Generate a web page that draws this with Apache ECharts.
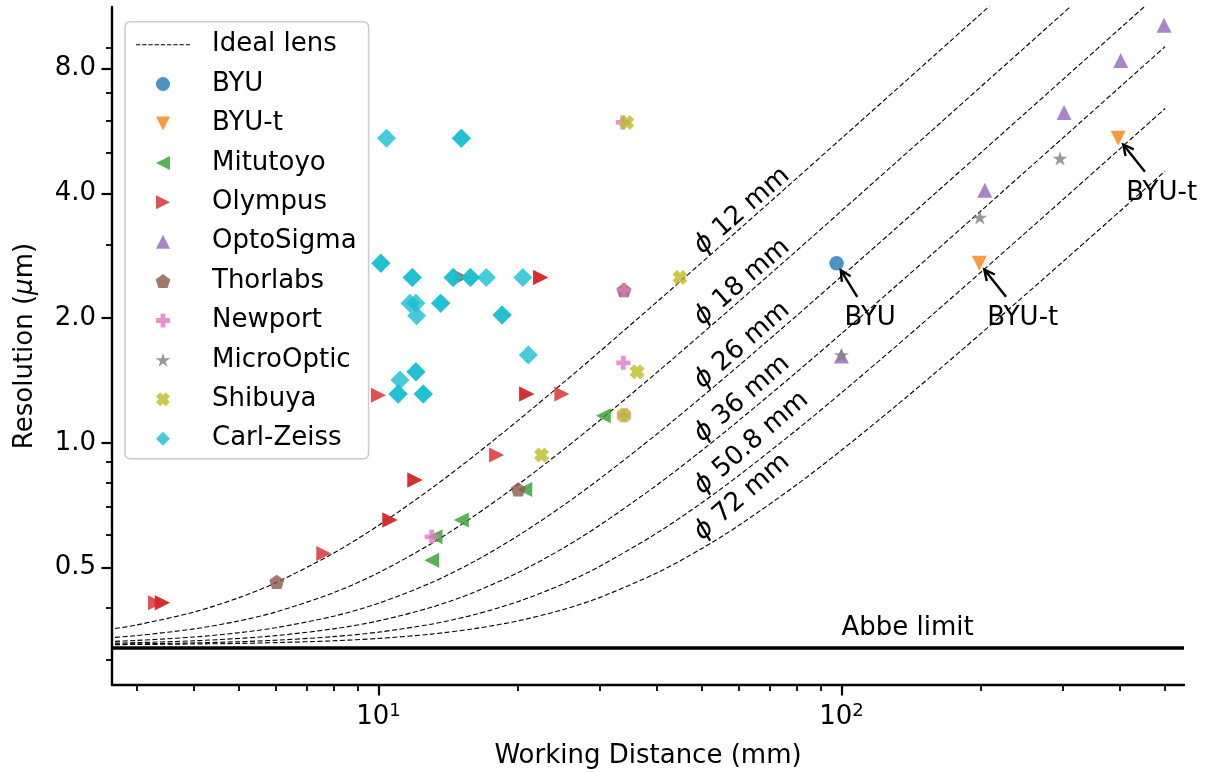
<!DOCTYPE html>
<html>
<head>
<meta charset="utf-8">
<script src="https://cdn.jsdelivr.net/npm/echarts@6/dist/echarts.min.js"></script>
<style>
  html, body { margin: 0; padding: 0; background: #fff; }
  #chart { width: 1211px; height: 772px; }
</style>
</head>
<body>
<div id="chart"></div>
<script>
// working distance samples (mm) for the ideal lens curves
var curveWD = [2.6, 3, 4, 5, 6, 8, 10, 13, 16, 20, 25, 30, 40, 50, 60, 80, 100, 130, 160, 200, 250, 300, 400, 500];
// resolution (um) of an ideal lens of given diameter, read at curveWD
var lens12  = [0.3542, 0.3634, 0.3906, 0.4231, 0.4596, 0.5417, 0.6317, 0.7755, 0.9256, 1.1310, 1.3926, 1.6572, 2.1909, 2.7278, 3.2662, 4.3455, 5.4264, 7.0491, 8.6729, 10.838, 13.546, 16.253];
var lens18  = [0.3383, 0.3426, 0.3557, 0.3718, 0.3906, 0.4348, 0.4858, 0.5710, 0.6629, 0.7920, 0.9595, 1.1310, 1.4805, 1.8346, 2.1909, 2.9071, 3.6258, 4.7056, 5.7869, 7.2296, 9.0336, 10.838, 14.448];
var lens26  = [0.3314, 0.3335, 0.3400, 0.3482, 0.3580, 0.3816, 0.4100, 0.4596, 0.5154, 0.5963, 0.7045, 0.8174, 1.0515, 1.2916, 1.5348, 2.0262, 2.5211, 3.2662, 4.0131, 5.0106, 6.2584, 7.5070, 10.005, 12.504];
var lens36  = [0.3284, 0.3295, 0.3329, 0.3373, 0.3426, 0.3557, 0.3718, 0.4009, 0.4348, 0.4858, 0.5562, 0.6317, 0.7920, 0.9595, 1.1310, 1.4805, 1.8346, 2.3696, 2.9071, 3.6258, 4.5256, 5.4264, 7.2296, 9.0336];
var lens508 = [0.3267, 0.3273, 0.3290, 0.3312, 0.3339, 0.3407, 0.3493, 0.3651, 0.3841, 0.4137, 0.4560, 0.5030, 0.6063, 0.7176, 0.8337, 1.0740, 1.3202, 1.6948, 2.0729, 2.5796, 3.2153, 3.8523, 5.1285, 6.4060];
var lens72  = [0.3258, 0.3261, 0.3270, 0.3281, 0.3295, 0.3329, 0.3373, 0.3455, 0.3557, 0.3718, 0.3957, 0.4231, 0.4858, 0.5562, 0.6317, 0.7920, 0.9595, 1.2178, 1.4805, 1.8346, 2.2802, 2.7278, 3.6258, 4.5256];
var lensNames = ['12', '18', '26', '36', '50.8', '72'];
var abbeLimit = 0.3245;
var abbeTextY = 0.34;

// [working distance mm, resolution um]
var byu        = [[97.6, 2.71]];
var byuT       = [[198.5, 2.71], [396, 5.43]];
var mitutoyo   = [[30.6, 1.163], [20.7, 0.772], [15.1, 0.651], [13.25, 0.593], [13.03, 0.521]];
var olympus    = [[3.30, 0.411], [3.415, 0.411], [3.415, 0.411], [7.62, 0.541], [10.59, 0.651], [10.59, 0.651],
                  [11.99, 0.813], [11.99, 0.813], [18.0, 0.934], [10.0, 1.303], [20.9, 1.311], [20.9, 1.311],
                  [24.9, 1.311], [22.4, 2.507], [22.4, 2.507], [15.1, 2.51]];
var optoSigma  = [[100, 1.619], [204, 4.07], [302.5, 6.27], [401, 8.36], [497.5, 10.17]];
var thorlabs   = [[6.03, 0.462], [20.04, 0.772], [33.9, 2.336]];
var newport    = [[33.7, 5.93], [33.9, 2.336], [33.8, 1.56], [33.9, 1.166], [13.03, 0.593]];
var microOptic = [[100, 1.63], [199, 3.5], [296.5, 4.856]];
var shibuya    = [[34.4, 5.93], [44.8, 2.507], [36.2, 1.484], [33.9, 1.166], [22.5, 0.934]];
var carlZeiss  = [[10.41, 5.43], [15.1, 5.43], [15.1, 5.43], [10.12, 2.71], [10.12, 2.71], [11.83, 2.507], [11.83, 2.507],
                  [14.5, 2.507], [14.5, 2.507], [15.8, 2.507], [15.8, 2.507], [17.1, 2.507], [20.5, 2.507],
                  [11.7, 2.17], [12.05, 2.17], [12.09, 2.025], [13.63, 2.17], [13.63, 2.17], [18.5, 2.033], [18.5, 2.033],
                  [21.07, 1.628], [11.13, 1.417], [12.05, 1.484], [12.05, 1.484], [11.03, 1.311], [11.03, 1.311],
                  [12.5, 1.311], [12.5, 1.311]];

var xMajor = [10, 100];
var xMinor = [3, 4, 5, 6, 7, 8, 9, 20, 30, 40, 50, 60, 70, 80, 90, 200, 300, 400, 500];
var yMajor = [0.5, 1, 2, 4, 8];
var yMinor = [0.3, 0.4, 0.6, 0.7, 0.8, 0.9, 3, 5, 6, 7, 9];

// annotated points: series name + point index
var annotations = [
    { text: 'BYU', series: 'BYU', index: 0 },
    { text: 'BYU-t', series: 'BYU-t', index: 0 },
    { text: 'BYU-t', series: 'BYU-t', index: 1 }
];

var FONT = "'DejaVu Sans', sans-serif";
var FS = 26;

// marker shapes (matplotlib-like), all as paths so the legend keeps their aspect
var triUp = 'path://M50,0L100,100L0,100Z';
var triDown = 'path://M0,0L100,0L50,100Z';
var triLeft = 'path://M100,0L100,100L0,50Z';
var triRight = 'path://M0,0L100,50L0,100Z';
var diamond = 'path://M50,0L100,50L50,100L0,50Z';
var pentagon = 'path://M50,0L97.55,34.55L79.39,90.45L20.61,90.45L2.45,34.55Z';
var plus = 'path://M33,0H67V33H100V67H67V100H33V67H0V33H33Z';
var star = 'path://M50,0L61.23,34.55L97.55,34.55L68.16,55.9L79.39,90.45L50,69.1L20.61,90.45L31.84,55.9L2.45,34.55L38.77,34.55Z';
var xFilled = 'path://M0,30L30,0L50,20L70,0L100,30L80,50L100,70L70,100L50,80L30,100L0,70L20,50Z';
var dashIcon = 'path://M0,0h4.2v1.1h-4.2zM6.1,0h4.2v1.1h-4.2zM12.2,0h4.2v1.1h-4.2zM18.3,0h4.2v1.1h-4.2zM24.4,0h4.2v1.1h-4.2z' +
               'M30.5,0h4.2v1.1h-4.2zM36.6,0h4.2v1.1h-4.2zM42.7,0h4.2v1.1h-4.2zM48.8,0h4.2v1.1h-4.2z';

var groups = [
    { name: 'BYU',        data: byu,        color: '#1f77b4', symbol: 'circle', size: 14.5 },
    { name: 'BYU-t',      data: byuT,       color: '#ff7f0e', symbol: triDown,  size: 15 },
    { name: 'Mitutoyo',   data: mitutoyo,   color: '#2ca02c', symbol: triLeft,  size: 15 },
    { name: 'Olympus',    data: olympus,    color: '#d62728', symbol: triRight, size: 15 },
    { name: 'OptoSigma',  data: optoSigma,  color: '#9467bd', symbol: triUp,    size: 15 },
    { name: 'Thorlabs',   data: thorlabs,   color: '#8c564b', symbol: pentagon, size: 15 },
    { name: 'Newport',    data: newport,    color: '#e377c2', symbol: plus,     size: 14 },
    { name: 'MicroOptic', data: microOptic, color: '#7f7f7f', symbol: star,     size: 15 },
    { name: 'Shibuya',    data: shibuya,    color: '#bcbd22', symbol: xFilled,  size: 15 },
    { name: 'Carl-Zeiss', data: carlZeiss,  color: '#17becf', symbol: diamond,  size: 19 }
];

var lensCurves = [lens12, lens18, lens26, lens36, lens508, lens72];

function curveData(vals) {
    var out = [];
    for (var i = 0; i < vals.length; i++) out.push([curveWD[i], vals[i]]);
    return out;
}

var series = [];
lensCurves.forEach(function(vals, k) {
    var s = {
        name: 'Ideal lens',
        type: 'line',
        data: curveData(vals),
        symbol: 'none',
        showSymbol: false,
        smooth: 0.3,
        clip: true,
        silent: true,
        z: 1,
        itemStyle: { color: '#000' },
        lineStyle: { color: '#000', width: 1.1, type: [5, 2.5] }
    };
    if (k === 0) {
        s.markLine = {
            silent: true,
            symbol: ['none', 'none'],
            label: { show: false },
            lineStyle: { color: '#000', width: 3.6, type: 'solid' },
            data: [{ yAxis: abbeLimit }]
        };
    }
    series.push(s);
});

groups.forEach(function(g) {
    series.push({
        name: g.name,
        type: 'scatter',
        data: g.data,
        symbol: g.symbol,
        symbolSize: g.size,
        symbolKeepAspect: true,
        z: 3,
        itemStyle: { color: g.color, opacity: 0.8 }
    });
});

var legendData = [{ name: 'Ideal lens', icon: dashIcon, itemStyle: { color: '#000', opacity: 1 } }]
    .concat(groups.map(function(g) { return { name: g.name }; }));

var axisText = { color: '#000', fontFamily: FONT, fontSize: FS };

var option = {
    animation: false,
    backgroundColor: '#fff',
    grid: { left: 112, right: 27, top: 7, bottom: 87, containLabel: false, outerBoundsMode: 'none' },
    legend: {
        orient: 'vertical',
        left: 125,
        top: 21.7,
        padding: [9, 12, 6, 11],
        itemWidth: 54,
        itemHeight: 14,
        itemGap: 11.4,
        selectedMode: false,
        symbolKeepAspect: true,
        backgroundColor: 'rgba(255,255,255,0.8)',
        borderColor: '#cccccc',
        borderWidth: 1.5,
        borderRadius: 5,
        textStyle: { color: '#000', fontFamily: FONT, fontSize: FS, lineHeight: 28, padding: [0, 0, 0, 17] },
        data: legendData
    },
    xAxis: [{
        type: 'log',
        logBase: 10,
        min: 2.658,
        max: 549.3,
        position: 'bottom',
        name: 'Working Distance (mm)',
        nameLocation: 'middle',
        nameGap: 58,
        nameTextStyle: axisText,
        splitLine: { show: false },
        axisLine: { lineStyle: { color: '#000', width: 2.4 } },
        axisTick: { customValues: xMajor, length: 10.5, lineStyle: { color: '#000', width: 2.2 } },
        axisLabel: {
            customValues: xMajor,
            margin: 17,
            color: '#000',
            fontFamily: FONT,
            formatter: function(v) {
                return '{b|10}{s|' + Math.round(Math.log10(v)) + '}';
            },
            rich: {
                b: { fontSize: FS, fontFamily: FONT, color: '#000', lineHeight: 30 },
                s: { fontSize: 18, fontFamily: FONT, color: '#000', lineHeight: 18, verticalAlign: 'top' }
            }
        }
    }, {
        type: 'log',
        logBase: 10,
        min: 2.658,
        max: 549.3,
        position: 'bottom',
        splitLine: { show: false },
        axisLine: { show: false },
        axisLabel: { show: false },
        axisTick: { customValues: xMinor, length: 6, lineStyle: { color: '#000', width: 1.8 } }
    }],
    yAxis: [{
        type: 'log',
        logBase: 2,
        min: 0.2604,
        max: 11.26,
        position: 'left',
        name: 'Resolution ({i|μ}m)',
        nameLocation: 'middle',
        nameRotate: 90,
        nameGap: 74,
        nameTextStyle: {
            color: '#000', fontFamily: FONT, fontSize: FS,
            rich: { i: { fontStyle: 'italic', fontFamily: FONT, fontSize: FS, color: '#000' } }
        },
        splitLine: { show: false },
        axisLine: { lineStyle: { color: '#000', width: 2.4 } },
        axisTick: { customValues: yMajor, length: 10.5, lineStyle: { color: '#000', width: 2.2 } },
        axisLabel: {
            customValues: yMajor,
            margin: 16,
            color: '#000',
            fontFamily: FONT,
            fontSize: FS,
            formatter: function(v) { return Number(v).toFixed(1); }
        }
    }, {
        type: 'log',
        logBase: 2,
        min: 0.2604,
        max: 11.26,
        position: 'left',
        splitLine: { show: false },
        axisLine: { show: false },
        axisLabel: { show: false },
        axisTick: { customValues: yMinor, length: 6, lineStyle: { color: '#000', width: 1.8 } }
    }],
    series: series
};

var chart = echarts.init(document.getElementById('chart'), null, { renderer: 'canvas' });
chart.setOption(option);

// text annotations placed from data coordinates
var ctx = document.createElement('canvas').getContext('2d');
ctx.font = FS + 'px ' + FONT;

function px(pt) {
    return chart.convertToPixel({ xAxisIndex: 0, yAxisIndex: 0 }, pt);
}

var graphics = [];

annotations.forEach(function(a) {
    var grp = groups.filter(function(g) { return g.name === a.series; })[0];
    var p = px(grp.data[a.index]);
    var w = ctx.measureText(a.text).width;
    var tx = p[0] + 8, ty = p[1] + 54.5;
    graphics.push({
        type: 'text', x: tx, y: ty, z: 50,
        style: { text: a.text, fill: '#000', font: FS + 'px ' + FONT, align: 'left', verticalAlign: 'middle' }
    });
    var cx = tx + w / 2, cy = ty;
    var dx = p[0] - cx, dy = p[1] - cy;
    var len = Math.sqrt(dx * dx + dy * dy);
    var ux = dx / len, uy = dy / len;
    var t = Math.min((w / 2 + 3) / Math.abs(ux), 21 / Math.abs(uy));
    var x1 = cx + ux * t, y1 = cy + uy * t;
    var x2 = p[0] - ux * 8, y2 = p[1] - uy * 8;
    graphics.push({
        type: 'line', z: 50,
        shape: { x1: x1, y1: y1, x2: x2, y2: y2 },
        style: { stroke: '#000', lineWidth: 2.4 }
    });
    var hl = 10.4, hw = 5.2;
    graphics.push({
        type: 'polyline', z: 50,
        shape: { points: [
            [x2 - ux * hl - uy * hw, y2 - uy * hl + ux * hw],
            [x2, y2],
            [x2 - ux * hl + uy * hw, y2 - uy * hl - ux * hw]
        ] },
        style: { stroke: '#000', lineWidth: 2.4, fill: null }
    });
});

// diameter labels along the curves, anchored at WD = 50 mm
var anchorIdx = curveWD.indexOf(50);
lensCurves.forEach(function(vals, k) {
    var p = px([curveWD[anchorIdx], vals[anchorIdx]]);
    graphics.push({
        type: 'text', x: p[0] + 4, y: p[1] - 3, z: 50,
        rotation: 41 * Math.PI / 180,
        style: {
            text: '{i|ϕ} ' + lensNames[k] + ' mm',
            fill: '#000', fontFamily: FONT, fontSize: FS,
            align: 'left', verticalAlign: 'bottom',
            rich: { i: { fontStyle: 'italic', fontFamily: FONT, fontSize: FS, fill: '#000' } }
        }
    });
});

var ap = px([100, abbeTextY]);
graphics.push({
    type: 'text', x: ap[0], y: ap[1] - 9, z: 50,
    style: { text: 'Abbe limit', fill: '#000', font: FS + 'px ' + FONT, align: 'left', verticalAlign: 'middle' }
});

chart.setOption({ graphic: graphics });
</script>
</body>
</html>
